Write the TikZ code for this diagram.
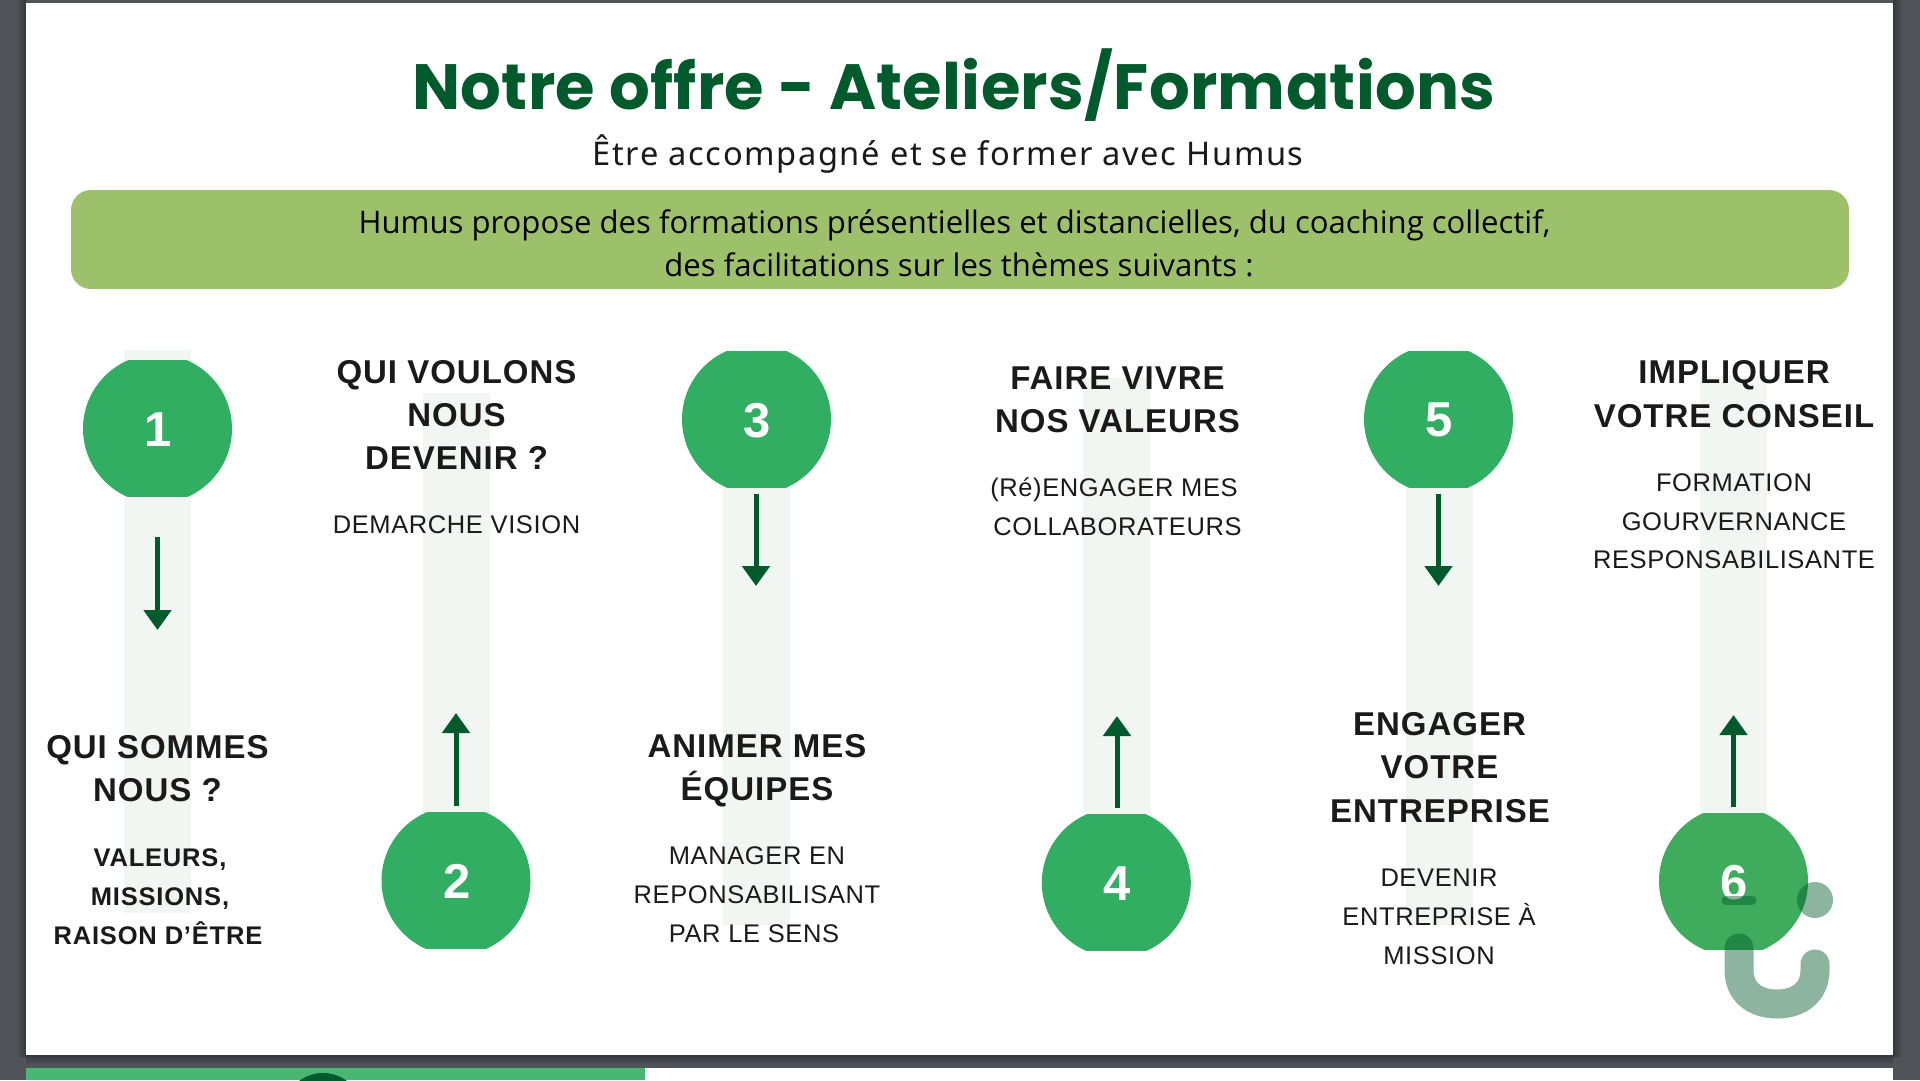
\documentclass[tikz,border=0pt]{standalone}
\usepackage{fontspec}
\usetikzlibrary{arrows.meta}
\setmainfont{Liberation Sans}
\newfontfamily\titlef[LetterSpace=0.5]{Poppins}
\newfontfamily\subf[LetterSpace=5]{Noto Sans}
\newfontfamily\barf{Open Sans}
\newfontfamily\headf[LetterSpace=3]{Liberation Sans}
\newfontfamily\bodyf[LetterSpace=2.4]{Liberation Sans}
\newfontfamily\boldbodyf[LetterSpace=3.2]{Liberation Sans}
\definecolor{bg}{HTML}{505458}
\definecolor{bgdark}{HTML}{36383B}
\definecolor{dgreen}{HTML}{005A2B}
\definecolor{cgreen}{HTML}{31AE62}
\definecolor{cgreenb}{HTML}{3EAC5C}
\definecolor{sgreen}{HTML}{4AB674}
\definecolor{lime}{HTML}{9DC16A}
\definecolor{band}{HTML}{F1F6F2}
\definecolor{ink}{HTML}{1A1A1A}
\tikzset{
  x=1pt,y=-1pt,
  bandbox/.style={fill=band,draw=none},
  titletxt/.style={anchor=base,inner sep=0pt,text=dgreen,font=\titlef\bfseries\fontsize{64}{64}\selectfont},
  subtxt/.style={anchor=base,inner sep=0pt,text=ink,font=\subf\fontsize{32.6}{32.6}\selectfont},
  bartxt/.style={anchor=base,inner sep=0pt,text=black,font=\barf\fontsize{31.1}{31.1}\selectfont},
  headtxt/.style={anchor=base,inner sep=0pt,text=ink,font=\headf\bfseries\fontsize{33}{33}\selectfont},
  bodytxt/.style={anchor=base,inner sep=0pt,text=ink,font=\bodyf\fontsize{25.5}{25.5}\selectfont},
  bodybold/.style={anchor=base,inner sep=0pt,text=ink,font=\boldbodyf\bfseries\fontsize{25.5}{25.5}\selectfont},
  numtxt/.style={inner sep=0pt,text=white,font=\bfseries\fontsize{49}{49}\selectfont},
  flow/.style={draw=dgreen,line width=5pt,-{Triangle[length=20pt,width=27pt]}},
  logo/.style={opacity=.45}
}
\newcommand{\disc}[4]{%
  \begin{scope}
    \clip (#1-80,#2-68) rectangle (#1+80,#2+68);
    \fill[#4] (#1,#2) circle[radius=74.5];
  \end{scope}
  \node[numtxt] (c#3) at (#1+0.7,#2+1) {#3};
}
\begin{document}
\begin{tikzpicture}
\useasboundingbox (0,0) rectangle (1920,1080);
\fill[bg] (0,0) rectangle (1920,1080);
% page shadows
\shade[left color=bg,right color=bgdark] (16,0) rectangle (26,1056);
\shade[left color=bgdark,right color=bg] (1893,0) rectangle (1903,1056);
\shade[top color=bgdark,bottom color=bg] (26,1055) rectangle (1893,1065);
% pages
\fill[white] (26,3) rectangle (1893,1055);
\fill[white] (26,1068) rectangle (1893,1080);
\begin{scope}
  \clip (26,1068) rectangle (645,1080);
  \fill[sgreen] (26,1068) rectangle (645,1080);
  \fill[dgreen] (323,1113) circle[radius=40];
\end{scope}
% title block
\node[titletxt] (title) at (954,109) {Notre offre - Ateliers/Formations};
\node[subtxt] (subtitle) at (948,165) {Être accompagné et se former avec Humus};
\fill[lime,rounded corners=20pt] (71,190) rectangle (1849,289);
\node[bartxt] (bar1) at (954.5,233) {Humus propose des formations présentielles et distancielles, du coaching collectif,};
\node[bartxt] (bar2) at (959,276) {des facilitations sur les thèmes suivants :};
% bands
\fill[bandbox] (124,350) rectangle (191,913);
\fill[bandbox] (423,393) rectangle (490,813);
\fill[bandbox] (723,487) rectangle (790,925);
\fill[bandbox] (1083,378) rectangle (1150,815);
\fill[bandbox] (1406,487) rectangle (1473,925);
\fill[bandbox] (1700,376) rectangle (1767,814);
% discs
\disc{157.5}{428.7}{1}{cgreen}
\disc{456}{880.7}{2}{cgreen}
\disc{756.5}{419.3}{3}{cgreen}
\disc{1116.3}{882.7}{4}{cgreen}
\disc{1438.5}{419.3}{5}{cgreen}
\disc{1733.5}{881.2}{6}{cgreenb}
% arrows
\coordinate (a1s) at (157.5,537); \coordinate (a1e) at (157.5,630);
\coordinate (a2s) at (456,806);   \coordinate (a2e) at (456,713);
\coordinate (a3s) at (756,494);   \coordinate (a3e) at (756,586);
\coordinate (a4s) at (1117,808);  \coordinate (a4e) at (1117,716);
\coordinate (a5s) at (1438.5,494);\coordinate (a5e) at (1438.5,586);
\coordinate (a6s) at (1733.5,807);\coordinate (a6e) at (1733.5,715);
\foreach \n in {1,...,6} \draw[flow] (a\n s) -- (a\n e);
% column 1
\node[headtxt] (h1a) at (157.5,758) {QUI SOMMES};
\node[headtxt] (h1b) at (157.5,801.5) {NOUS ?};
\node[bodybold] (b1a) at (160,866) {VALEURS,};
\node[bodybold] (b1b) at (160,905) {MISSIONS,};
\node[bodybold] (b1c) at (158,944) {RAISON D’ÊTRE};
% column 2
\node[headtxt] (h2a) at (456.5,383) {QUI VOULONS};
\node[headtxt] (h2b) at (456.5,426) {NOUS};
\node[headtxt] (h2c) at (456.5,469) {DEVENIR ?};
\node[bodytxt] (b2a) at (456.5,533) {DEMARCHE VISION};
% column 3
\node[headtxt] (h3a) at (757,757) {ANIMER MES};
\node[headtxt] (h3b) at (757,800) {ÉQUIPES};
\node[bodytxt] (b3a) at (757,864) {MANAGER EN};
\node[bodytxt] (b3b) at (757,903) {REPONSABILISANT};
\node[bodytxt] (b3c) at (754,942) {PAR LE SENS};
% column 4
\node[headtxt] (h4a) at (1117.5,389) {FAIRE VIVRE};
\node[headtxt] (h4b) at (1117.5,432) {NOS VALEURS};
\node[bodytxt] (b4a) at (1114,496) {(Ré)ENGAGER MES};
\node[bodytxt] (b4b) at (1117.5,535) {COLLABORATEURS};
% column 5
\node[headtxt] (h5a) at (1439.5,735) {ENGAGER};
\node[headtxt] (h5b) at (1439.5,778.5) {VOTRE};
\node[headtxt] (h5c) at (1440,822) {ENTREPRISE};
\node[bodytxt] (b5a) at (1439,886) {DEVENIR};
\node[bodytxt] (b5b) at (1439,925) {ENTREPRISE À};
\node[bodytxt] (b5c) at (1439,964) {MISSION};
% column 6
\node[headtxt] (h6a) at (1734,383) {IMPLIQUER};
\node[headtxt] (h6b) at (1734,427) {VOTRE CONSEIL};
\node[bodytxt] (b6a) at (1734,491) {FORMATION};
\node[bodytxt] (b6b) at (1734,530) {GOURVERNANCE};
\node[bodytxt] (b6c) at (1734,568) {RESPONSABILISANTE};
% watermark logo
\begin{scope}[logo]
  \fill[dgreen] (1815,900) circle[radius=18];
  \draw[dgreen,line width=9pt,line cap=round] (1726,900) -- (1752,900);
  \draw[dgreen,line width=29pt,line cap=round] (1739,948) -- (1739,970)
     .. controls (1739,992) and (1755,1004) .. (1777,1004)
     .. controls (1799,1004) and (1815,992) .. (1815,970) -- (1815,964);
\end{scope}
\end{tikzpicture}
\end{document}
